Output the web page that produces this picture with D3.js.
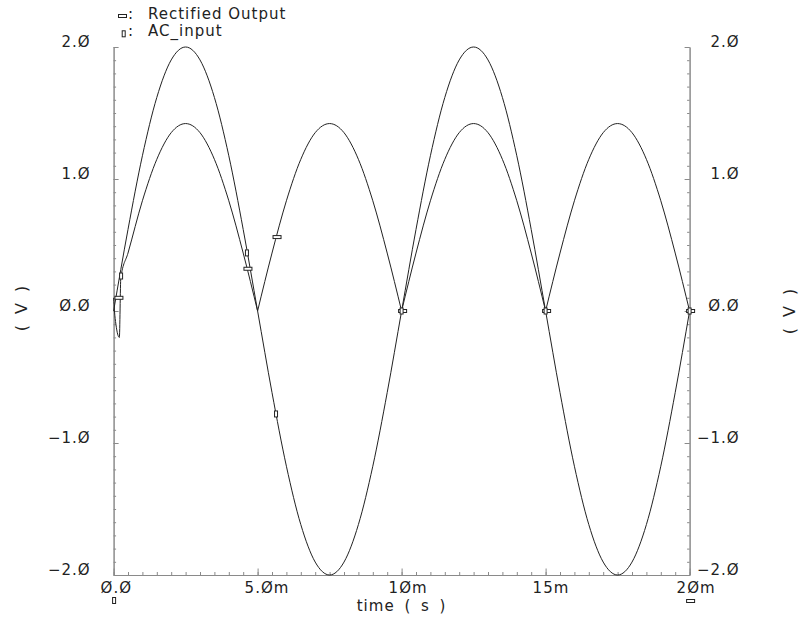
<!DOCTYPE html>
<html><head><meta charset="utf-8">
<script src="https://cdn.jsdelivr.net/npm/d3@7"></script>
<style>body{margin:0;background:#fff}svg{display:block}</style>
</head><body>
<svg id="chart" width="800" height="617"></svg>
<script>
// ---- data (time in ms, values in V) ----
const timeMs = [0,0.5,1,1.5,2,2.5,3,3.5,4,4.5,5,5.5,6,6.5,7,7.5,8,8.5,9,9.5,10,
  10.5,11,11.5,12,12.5,13,13.5,14,14.5,15,15.5,16,16.5,17,17.5,18,18.5,19,19.5,20];
const acInput = [0,0.618,1.176,1.618,1.902,2.0,1.902,1.618,1.176,0.618,0,
  -0.618,-1.176,-1.618,-1.902,-2.0,-1.902,-1.618,-1.176,-0.618,0,
  0.618,1.176,1.618,1.902,2.0,1.902,1.618,1.176,0.618,0,
  -0.618,-1.176,-1.618,-1.902,-2.0,-1.902,-1.618,-1.176,-0.618,0];
const rectTime = [0,0.03,0.08,0.2,0.25,0.5,1,1.5,2,2.5,3,3.5,4,4.5,5,5.5,6,6.5,7,7.5,8,8.5,9,9.5,10,
  10.5,11,11.5,12,12.5,13,13.5,14,14.5,15,15.5,16,16.5,17,17.5,18,18.5,19,19.5,20];
const rectOutput = [0.1,0.0,-0.1,-0.2,0.25,0.439,0.835,1.149,1.351,1.42,1.351,1.149,0.835,0.439,0,
  0.439,0.835,1.149,1.351,1.42,1.351,1.149,0.835,0.439,0,
  0.439,0.835,1.149,1.351,1.42,1.351,1.149,0.835,0.439,0,
  0.439,0.835,1.149,1.351,1.42,1.351,1.149,0.835,0.439,0];
const rectMarkT = [0.15,4.63,5.64,10,15,20];
const rectMarkV = [0.1,0.32,0.56,0,0,0];
const acMarkT = [0.26,4.63,5.64,10,15,20];
const acMarkV = [0.265,0.44,-0.78,0,0,0];
const seriesNames = ["Rectified Output","AC_input"];
const yTicks = [-2,-1,0,1,2];
const yTickLabels = ["\u22122.\u00D8","\u22121.\u00D8","\u00D8.\u00D8","1.\u00D8","2.\u00D8"];
const xTicks = [0,5,10,15,20];
const xTickLabels = ["\u00D8.\u00D8","5.\u00D8m","1\u00D8m","15m","2\u00D8m"];
const xTitle = "time ( s )";
const yTitle = "( V )";

// ---- drawing ----
const svg = d3.select("#chart");
const x = d3.scaleLinear().domain([0,20]).range([113.6,689.6]);
const y = d3.scaleLinear().domain([-2,2]).range([575,47]);
const axisCol = "#8a8a8a", ink = "#222";
const font = "DejaVu Sans, sans-serif";

function styleAxis(g){
  g.selectAll("path,line").attr("stroke",axisCol).attr("stroke-width",1);
  g.selectAll("text").remove();
}
const yMinor = d3.range(-20,21).map(d=>d/10);
const xMinor = d3.range(0,41).map(d=>d/2);
// left axis
svg.append("g").attr("transform",`translate(${x(0)},0)`)
  .call(d3.axisRight(y).tickValues(yMinor).tickSize(2.5).tickSizeOuter(0)).call(styleAxis);
svg.append("g").attr("transform",`translate(${x(0)},0)`)
  .call(d3.axisRight(y).tickValues(yTicks).tickSize(5).tickSizeOuter(0)).call(styleAxis);
// right axis
svg.append("g").attr("transform",`translate(${x(20)},0)`)
  .call(d3.axisLeft(y).tickValues(yMinor).tickSize(2.5).tickSizeOuter(0)).call(styleAxis);
svg.append("g").attr("transform",`translate(${x(20)},0)`)
  .call(d3.axisLeft(y).tickValues(yTicks).tickSize(5).tickSizeOuter(0)).call(styleAxis);
// bottom axis
svg.append("g").attr("transform",`translate(0,${y(-2)})`)
  .call(d3.axisTop(x).tickValues(xMinor).tickSize(3).tickSizeOuter(0)).call(styleAxis);
svg.append("g").attr("transform",`translate(0,${y(-2)})`)
  .call(d3.axisTop(x).tickValues(xTicks).tickSize(6.5).tickSizeOuter(0)).call(styleAxis);

const txt = (sel)=>sel.attr("font-family",font).attr("font-size",15).attr("fill",ink)
  .attr("letter-spacing","1px");
// y labels
yTicks.forEach((v,i)=>{
  svg.append("text").call(txt).attr("x",x(0)-23).attr("y",y(v)).attr("text-anchor","end").text(yTickLabels[i]);
  svg.append("text").call(txt).attr("x",x(20)+50).attr("y",y(v)).attr("text-anchor","end").text(yTickLabels[i]);
});
// x labels
xTicks.forEach((v,i)=>{
  svg.append("text").call(txt).attr("x",x(v)-13).attr("y",593).text(xTickLabels[i]);
});
svg.append("text").call(txt).attr("x",x(10)).attr("y",611).attr("text-anchor","middle")
  .attr("word-spacing","4px").text(xTitle);
[[22, y(0)-3],[790, y(0)]].forEach(p=>{
  svg.append("text").call(txt).attr("font-size",16).attr("word-spacing","4px")
    .attr("text-anchor","middle").attr("transform",`translate(${p[0]+5},${p[1]}) rotate(-90)`).text(yTitle);
});

// curves
const line = d3.line().x(d=>x(d[0])).y(d=>y(d[1])).curve(d3.curveMonotoneX);
const acPts = timeMs.map((t,i)=>[t,acInput[i]]);
svg.append("path").attr("d",line(acPts)).attr("fill","none").attr("stroke",ink).attr("stroke-width",1);
const rectPts = rectTime.map((t,i)=>[t,rectOutput[i]]);
const segs=[]; let cur=[];
rectPts.forEach((p,i)=>{
  cur.push(p);
  if(p[1]===0 && i>1 && i<rectPts.length-1){ segs.push(cur); cur=[p]; }
});
segs.push(cur);
segs.forEach(s=>svg.append("path").attr("d",line(s)).attr("fill","none").attr("stroke",ink).attr("stroke-width",1));

// markers
function hMark(cx,cy){ svg.append("rect").attr("x",cx-4).attr("y",cy-1.5).attr("width",8).attr("height",3)
  .attr("fill","#fff").attr("stroke",ink).attr("stroke-width",1); }
function vMark(cx,cy){ svg.append("rect").attr("x",cx-1.5).attr("y",cy-3).attr("width",3).attr("height",6)
  .attr("fill","#fff").attr("stroke",ink).attr("stroke-width",1); }
rectMarkT.forEach((t,i)=>hMark(x(t)+1,y(rectMarkV[i])));
acMarkT.forEach((t,i)=>vMark(x(t),y(acMarkV[i])));
vMark(x(0)+0.5, 600.5);
hMark(x(20)+1, 601);

// legend
hMark(122.5,16); vMark(123.7,33.8);
svg.append("text").call(txt).attr("x",128).attr("y",19).text(":");
svg.append("text").call(txt).attr("x",128).attr("y",36).text(":");
svg.append("text").call(txt).attr("x",148).attr("y",19).text(seriesNames[0]);
svg.append("text").call(txt).attr("x",148).attr("y",36).text(seriesNames[1]);
</script>
</body></html>
